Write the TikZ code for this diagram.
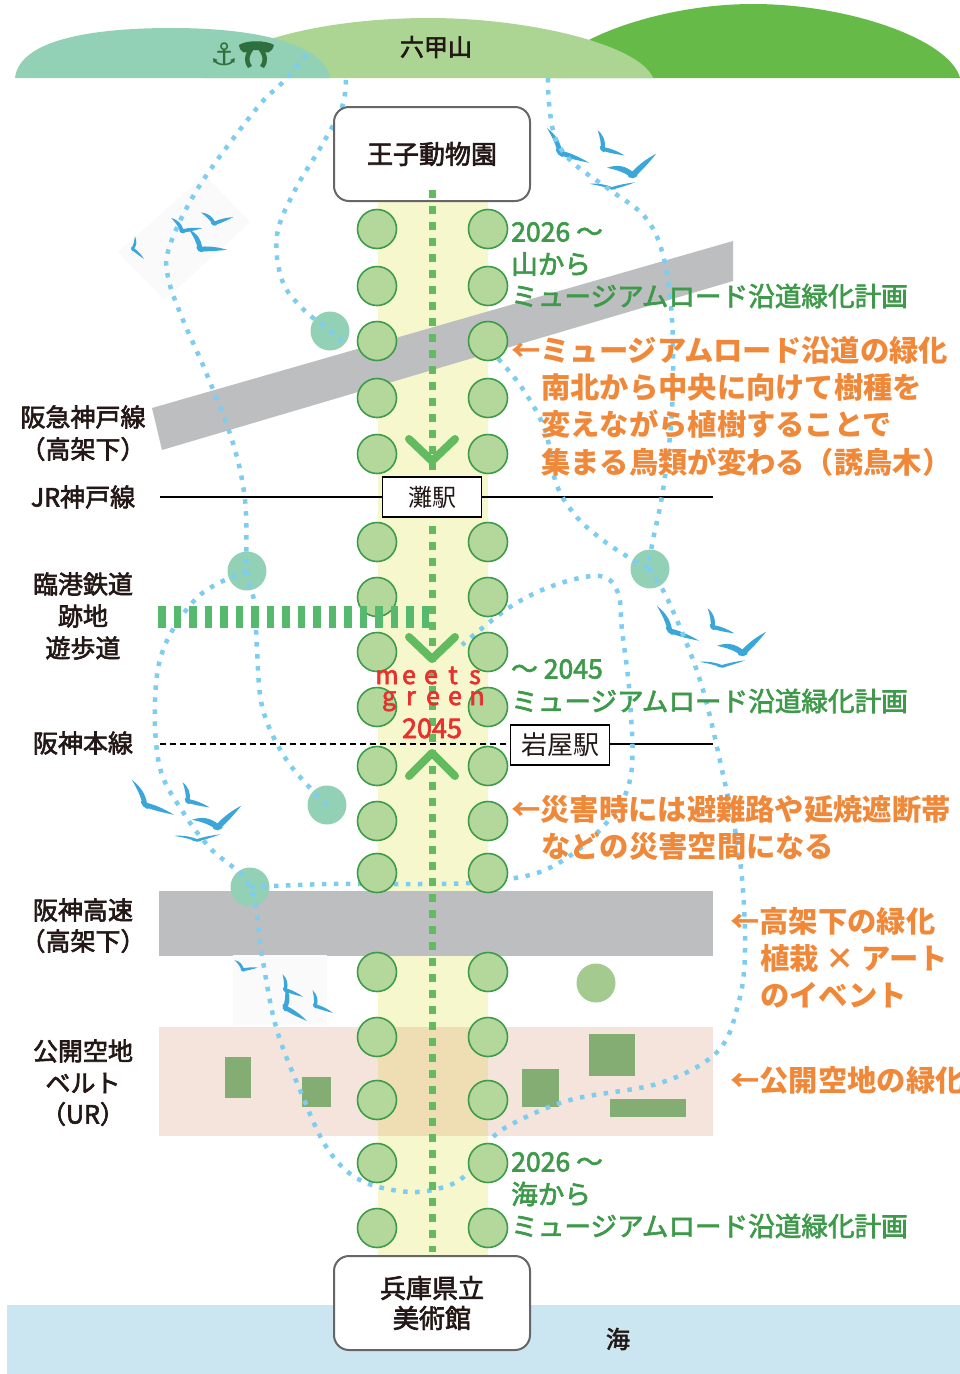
\documentclass[tikz,border=0pt]{standalone}
\usepackage{fontspec}
\newfontfamily\jp{Noto Sans CJK JP}
\newfontfamily\jpm{Noto Sans CJK JP}[FakeBold=2.5]
\newfontfamily\sym{DejaVu Sans}
\definecolor{mteal}{HTML}{93D1B7}
\definecolor{mlight}{HTML}{ACD593}
\definecolor{mgreen}{HTML}{66BB48}
\definecolor{pale}{HTML}{F7F7CD}
\definecolor{treefill}{HTML}{B4D89B}
\definecolor{treeline}{HTML}{3D9B4A}
\definecolor{walk}{HTML}{63BB5F}
\definecolor{rail}{HTML}{55BA6E}
\definecolor{road}{HTML}{BCBEC0}
\definecolor{plaza}{HTML}{F4E4DC}
\definecolor{plazamid}{HTML}{EFDDB3}
\definecolor{bush}{HTML}{83AD73}
\definecolor{olive}{HTML}{A5CA8F}
\definecolor{sea}{HTML}{CBE6F1}
\definecolor{sky}{HTML}{7CCDEF}
\definecolor{ink}{HTML}{231815}
\definecolor{plan}{HTML}{3E9A4A}
\definecolor{note}{HTML}{F0883A}
\definecolor{slogan}{HTML}{E8302E}
\definecolor{gullblue}{HTML}{3AA6DA}
\definecolor{emblem}{HTML}{2F6E3D}
\tikzset{
  tree/.style={circle, fill=treefill, draw=treeline, line width=1.6, minimum size=39, inner sep=0},
  spot/.style={circle, fill=mteal, minimum size=39, inner sep=0},
  flight/.style={draw=sky, line width=4.5, dash pattern=on 4.5 off 7.5},
  lab/.style={inner sep=0, text=ink, font=\jpm\fontsize{25}{30}\selectfont},
  plantext/.style={inner sep=0, anchor=west, text=plan, font=\jpm\fontsize{26.6}{30}\selectfont},
  notetext/.style={inner sep=0, anchor=west, text=note, font=\jp\bfseries\fontsize{29.3}{32}\selectfont},
  redtext/.style={inner sep=0, anchor=base, text=slogan, font=\jpm\fontsize{25}{26}\selectfont},
  stationbox/.style={draw=black, line width=1.4, fill=white, inner sep=0, minimum height=40, minimum width=99, text=ink, font=\jp\fontsize{24}{28}\selectfont},
  placebox/.style={draw=black!60, line width=2, fill=white, rounded corners=15, inner sep=0, minimum width=196, minimum height=94, text=ink, font=\jpm\fontsize{26}{32}\selectfont, align=center},
  chev/.style={draw=walk, line width=8, line cap=round, line join=round},
  gull/.pic={
    \fill[gullblue] (-1,0) .. controls (-0.55,-0.12) and (-0.25,0.0) .. (0,0.22)
      .. controls (0.3,-0.05) and (0.6,-0.25) .. (1,-0.42)
      .. controls (0.7,-0.1) and (0.35,0.25) .. (0,0.5)
      .. controls (-0.3,0.24) and (-0.6,0.12) .. (-1,0) -- cycle;
    \fill[gullblue] (0,0.38) ellipse (0.2 and 0.1);
  },
  flock/.pic={
    \pic[rotate=-48, scale=27, yscale=0.7] at (20,25) {gull};
    \pic[rotate=-55, scale=18] at (63,22) {gull};
    \pic[rotate=4, scale=25] at (87,43) {gull};
    \pic[rotate=-3, scale=23, yscale=0.4] at (67,62) {gull};
  }
}
\begin{document}
\begin{tikzpicture}[x=1pt, y=-1pt]
\useasboundingbox (0,0) rectangle (960,1374);
\clip (0,0) rectangle (960,1374);

% hills
\fill[mgreen] (546,78) .. controls (560,40) and (660,4) .. (753,4) .. controls (850,4) and (950,40) .. (960,78) -- cycle;
\fill[mlight] (205,78) .. controls (230,40) and (330,18) .. (429,18) .. controls (530,18) and (640,45) .. (653,78) -- cycle;
\fill[mteal] (15,78) .. controls (20,35) and (110,28) .. (172,28) .. controls (260,28) and (325,45) .. (330,78) -- cycle;

% sea
\fill[sea] (7,1305) rectangle (960,1374);

% walkway band
\fill[pale] (378,195) rectangle (488,1258);

% open space belt
\fill[plaza] (159,1027) rectangle (713,1136);
\fill[plazamid] (378,1027) rectangle (488,1136);
\fill[bush] (225,1057) rectangle (251,1098);
\fill[bush] (302,1077) rectangle (331,1107);
\fill[bush] (522,1069) rectangle (559,1107);
\fill[bush] (589,1034) rectangle (635,1076);
\fill[bush] (610,1099) rectangle (686,1117);

% elevated roads
\fill[road] (152,408) -- (733,241) -- (733,281) -- (162,450) -- cycle;
\fill[road] (159,891) rectangle (713,956);

% railway lines
\draw[line width=2.6] (160,497) -- (713,497);
\draw[line width=2.4, dash pattern=on 6 off 4] (160,744) -- (511,744);
\draw[line width=2.6] (610,744) -- (713,744);

% green spots
\node[spot] (s1) at (330,331) {};
\node[spot] (s2) at (247,571) {};
\node[spot] (s3) at (650,569) {};
\node[spot] (s4) at (327,805) {};
\node[spot] (s5) at (250,887) {};
\node[circle, fill=olive, minimum size=39, inner sep=0] (s6) at (596,983) {};

% birds
\fill[black!2] (205,175) -- (250,222) -- (165,300) -- (118,252) -- cycle;
\fill[black!2] (233,955) rectangle (327,1025);
\pic[rotate=-80, scale=12] at (137,248) {gull};
\pic[rotate=-30, scale=16] at (185,226) {gull};
\pic[rotate=-40, scale=21] at (205,243) {gull};
\pic[rotate=-20, scale=16] at (216,218) {gull};
\pic at (545,123) {flock};
\pic at (655,601) {flock};
\pic at (130,775) {flock};
\pic[rotate=-30, scale=12] at (245,966) {gull};
\pic[rotate=-60, scale=15] at (290,987) {gull};
\pic[rotate=-70, scale=20] at (292,1005) {gull};
\pic[rotate=-60, scale=15] at (320,1003) {gull};

% flight routes
\draw[flight] plot[smooth, tension=0.6] coordinates {(306,55) (282,83) (257,108) (200,185) (170,245) (168,277) (183,320) (205,370) (232,440) (245,500) (247,571) (255,605) (257,650) (263,710) (288,762) (327,805)};
\draw[flight] plot[smooth, tension=0.6] coordinates {(346,80) (342,107) (322,145) (295,190) (277,235) (282,280) (302,308) (330,331) (348,346)};
\draw[flight] plot[smooth, tension=0.6] coordinates {(247,571) (200,595) (165,645) (155,700) (160,768) (183,812) (210,848) (250,887) (262,956) (276,1027) (300,1090) (327,1148) (360,1180) (410,1192) (450,1185) (470,1170) (488,1142)};
\draw[flight] plot[smooth, tension=0.6] coordinates {(250,887) (330,884) (420,884) (480,882) (545,870) (600,830) (630,780) (630,700) (622,630) (618,593) (600,576) (555,585) (510,607) (462,645)};
\draw[flight] plot[smooth, tension=0.6] coordinates {(548,78) (549,103) (555,137) (572,162) (610,190) (645,217) (663,255) (672,320) (672,410) (663,490) (652,545) (650,569) (668,600) (700,680) (722,770) (740,860) (745,950) (738,1005) (717,1052) (660,1083) (570,1100) (510,1125) (488,1142)};
\draw[flight] plot[smooth, tension=0.6] coordinates {(490,350) (520,385) (545,430) (556,483) (575,515) (600,538) (628,557) (650,569)};

% street trees
\foreach \y [count=\i] in {229,286,341,398,454,542,597,652,707,766,821,873,972,1037,1100,1163,1228} {
  \node[tree] (tl\i) at (377,\y) {};
  \node[tree] (tr\i) at (488,\y) {};
}

% former harbour railway
\draw[rail, line width=22, dash pattern=on 7.5 off 8] (158,617) -- (432,617);

% places
\node[placebox] (zoo) at (432,154) {王子動物園};
\node[placebox] (museum) at (432,1303) {兵庫県立\\[-2pt]美術館};

% central promenade
\draw[walk, line width=7, dash pattern=on 8 off 8] (432,190) -- (432,1252);
\draw[chev] (409,439) -- (432,461) -- (455,439);
\draw[chev] (409,637) -- (432,659) -- (455,637);
\draw[chev] (409,776) -- (432,753) -- (455,776);

% stations
\node[stationbox] (nada) at (432,497) {灘駅};
\node[stationbox, font=\jp\fontsize{26}{28}\selectfont] (iwaya) at (560,745) {岩屋駅};

% slogan
\foreach \c [count=\k] in {m,e,e,t,s} { \node[redtext] at (365+22*\k,684) {\c}; }
\foreach \c [count=\k] in {g,r,e,e,n} { \node[redtext] at (367+22*\k,705) {\c}; }
\node[redtext, font=\jpm\fontsize{27}{28}\selectfont] at (432,738) {2045};

% hills and sea labels
\node[lab, font=\jpm\fontsize{24}{28}\selectfont] (rokko) at (436,47) {六甲山};
\node[inner sep=0, text=emblem, font=\sym\fontsize{31}{32}\selectfont] (anchor) at (224,54) {⚓};
\fill[emblem] (239,45) .. controls (246,40) and (266,40) .. (274,45)
  .. controls (272,53) and (266,55) .. (261,50) -- (251,50)
  .. controls (246,55) and (240,53) .. (239,45) -- cycle;
\draw[emblem, line width=4.5] (252,48) .. controls (246,56) and (246,62) .. (250,67);
\draw[emblem, line width=4.5] (260,48) .. controls (266,56) and (266,62) .. (262,67);
\node[lab, font=\jpm\fontsize{24}{28}\selectfont] (umi) at (618,1339) {海};

% left labels
\node[lab] at (83,417) {阪急神戸線};
\node[lab] at (83,449) {（高架下）};
\node[lab] at (83,497) {JR神戸線};
\node[lab] at (83,584) {臨港鉄道};
\node[lab] at (83,616) {跡地};
\node[lab] at (83,648) {遊歩道};
\node[lab] at (83,743) {阪神本線};
\node[lab] at (83,910) {阪神高速};
\node[lab] at (83,941) {（高架下）};
\node[lab] at (83,1051) {公開空地};
\node[lab] at (83,1083) {ベルト};
\node[lab] at (83,1114) {（UR）};

% plan labels
\node[plantext] at (511,232) {2026 ～};
\node[plantext] at (511,264) {山から};
\node[plantext] at (511,296) {ミュージアムロード沿道緑化計画};
\node[plantext] at (511,669) {～ 2045};
\node[plantext] at (511,701) {ミュージアムロード沿道緑化計画};
\node[plantext] at (511,1162) {2026 ～};
\node[plantext] at (511,1194) {海から};
\node[plantext] at (511,1226) {ミュージアムロード沿道緑化計画};

% notes
\node[notetext] at (511,350) {←ミュージアムロード沿道の緑化};
\node[notetext] at (541,387) {南北から中央に向けて樹種を};
\node[notetext] at (541,424) {変えながら植樹することで};
\node[notetext] at (541,462) {集まる鳥類が変わる（誘鳥木）};
\node[notetext] at (511,809) {←災害時には避難路や延焼遮断帯};
\node[notetext] at (541,846) {などの災害空間になる};
\node[notetext] at (730,921) {←高架下の緑化};
\node[notetext] at (760,958) {植栽 × アート};
\node[notetext] at (760,995) {のイベント};
\node[notetext] at (730,1080) {←公開空地の緑化};
\end{tikzpicture}
\end{document}
